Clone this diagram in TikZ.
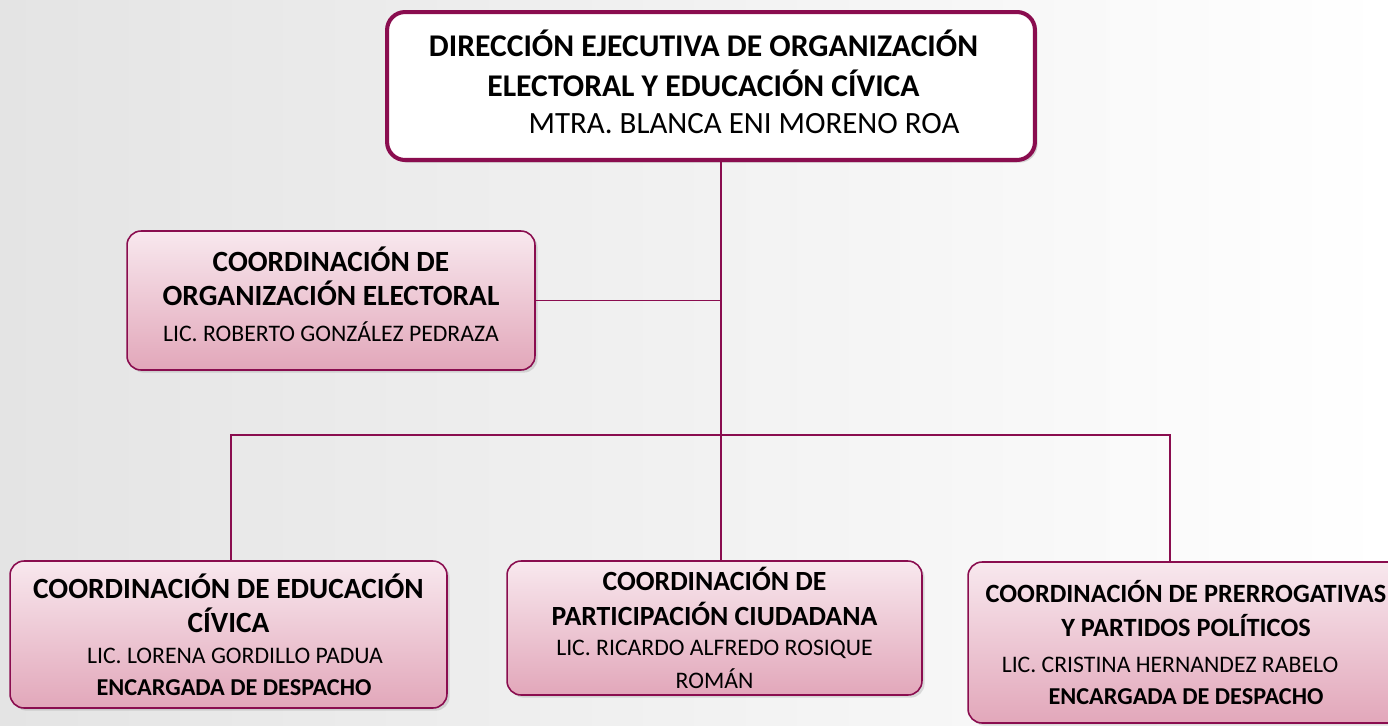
\documentclass[tikz,border=0pt]{standalone}
\usepackage{fontspec}
\setmainfont{Carlito}
\usetikzlibrary{positioning,shadows}
\definecolor{vino}{HTML}{8A0D4F}
\definecolor{rosaA}{HTML}{F8E8EE}
\definecolor{rosaB}{HTML}{E2A7BA}
\definecolor{fondo}{HTML}{E4E4E4}
\tikzset{
  cargo/.style={draw=vino, line width=0.9pt, rounded corners=0.28cm,
    top color=rosaA, bottom color=rosaB, align=center, inner sep=0pt,
    drop shadow={opacity=0.25, shadow xshift=1.5pt, shadow yshift=-1.5pt}},
  direccion/.style={draw=vino, line width=2.3pt, rounded corners=0.36cm,
    fill=white, align=center, inner sep=0pt,
    drop shadow={opacity=0.3, shadow xshift=1.5pt, shadow yshift=-1.5pt}},
  link/.style={draw=vino, line width=1.1pt},
  titulo/.style={font=\fontsize{16.7}{19.5}\selectfont\bfseries},
  subtitulo/.style={font=\fontsize{15.8}{19.5}\selectfont\bfseries},
}
\newcommand{\nombre}[1]{{\fontsize{13.5}{15}\selectfont\mdseries #1}}
\newcommand{\encargo}[1]{{\fontsize{13.8}{16}\selectfont\bfseries #1}}
\begin{document}
\begin{tikzpicture}[x=0.02cm, y=-0.02cm]
        \useasboundingbox (0,0) rectangle (1388,725);
        \shade [left color=fondo, right color=white] (0,0) rectangle (1388,725);

        \node [direccion, minimum width=12.96cm, minimum height=2.96cm,
            font=\fontsize{18}{22}\selectfont] (dir) at (711,86)
            {\bfseries DIRECCIÓN EJECUTIVA DE ORGANIZACIÓN\makebox[0.3cm]{}\\[1pt]
             \bfseries ELECTORAL Y EDUCACIÓN CÍVICA\makebox[0.3cm]{}\\[-1pt]
             \hspace*{1.32cm}{\fontsize{17.6}{20}\selectfont MTRA. BLANCA ENI MORENO ROA}\rule[-0.18cm]{0pt}{0pt}};

        \node [cargo, titulo, minimum width=8.16cm, minimum height=2.78cm] (org) at (331,300.5)
            {COORDINACIÓN DE\\ORGANIZACIÓN ELECTORAL\\[1pt]
             \nombre{LIC. ROBERTO GONZÁLEZ PEDRAZA}\rule[-0.25cm]{0pt}{0pt}};

        \node [cargo, titulo, minimum width=8.74cm, minimum height=2.94cm] (edu) at (228.5,634.5)
            {COORDINACIÓN DE EDUCACIÓN\\CÍVICA\\[-2pt]
             \hspace*{0.26cm}\nombre{LIC. LORENA GORDILLO PADUA}\\[-1pt]
             \hspace*{0.22cm}\encargo{ENCARGADA DE DESPACHO}};

        \node [cargo, subtitulo, minimum width=8.3cm, minimum height=2.68cm] (par) at (714.5,628)
            {COORDINACIÓN DE\\PARTICIPACIÓN CIUDADANA\\[-2pt]
             \nombre{LIC. RICARDO ALFREDO ROSIQUE}\\[-1pt]
             \nombre{ROMÁN}};

        \node [cargo, minimum width=8.72cm, minimum height=3.22cm,
            font=\fontsize{15}{19.5}\selectfont\bfseries] (pre) at (1186,642.5)
            {COORDINACIÓN DE PRERROGATIVAS\\Y PARTIDOS POLÍTICOS\\[1pt]
             \hspace*{-0.64cm}\nombre{LIC. CRISTINA HERNANDEZ RABELO}\\[-1pt]
             \encargo{ENCARGADA DE DESPACHO}};

        \coordinate (trunk) at (721,300);
        \coordinate (barL) at (231,435);
        \coordinate (barR) at (1170,435);

        \draw [link] (dir.south -| trunk) -- (par.north -| trunk);
        \draw [link] (org.east) -- (org.east -| trunk);
        \draw [link] (edu.north -| barL) -- (barL) -- (barR) -- (pre.north -| barR);
    \end{tikzpicture}
\end{document}
